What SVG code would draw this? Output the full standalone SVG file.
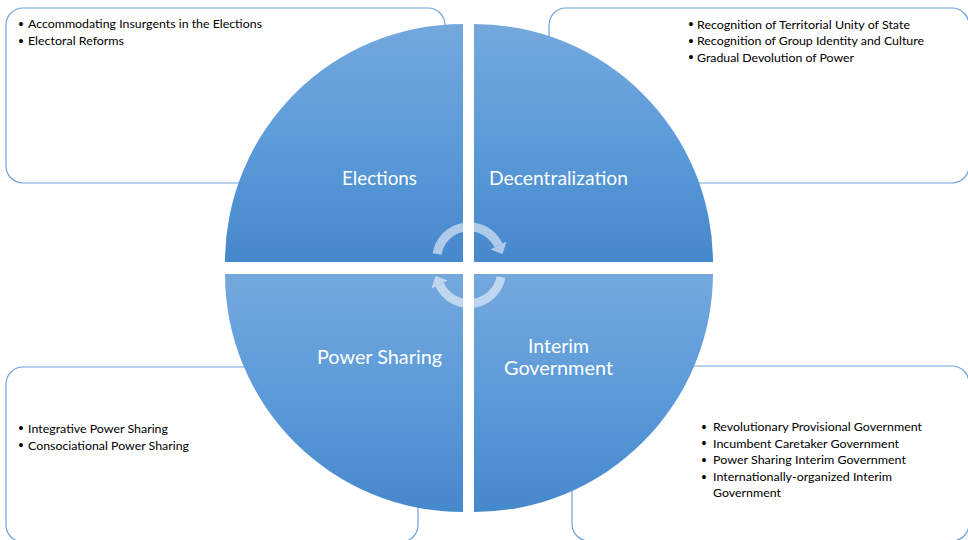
<svg xmlns="http://www.w3.org/2000/svg" width="968" height="540" viewBox="0 0 968 540">
<defs>
<linearGradient id="qg" x1="0" y1="0" x2="0" y2="1">
<stop offset="0" stop-color="#74A8DD"/>
<stop offset="0.5" stop-color="#5B9BD9"/>
<stop offset="1" stop-color="#4688CC"/>
</linearGradient>
<style>
.box{fill:#FFFFFF;stroke:#6FA3DA;stroke-width:1.2}
.q{fill:url(#qg)}
.lbl{font-family:Lato,"Liberation Sans",sans-serif;font-size:20px;fill:#FFFFFF;text-anchor:middle}
.bt{font-family:Lato,"Liberation Sans",sans-serif;font-size:12px;fill:#000000}
.bul{font-family:"Liberation Sans",sans-serif;font-size:14px;fill:#000000;text-anchor:middle}
.arc{fill:none;stroke:#FFFFFF;stroke-width:9}
.head{fill:#FFFFFF}
</style>
</defs>
<rect width="968" height="540" fill="#FFFFFF"/>
<g id="node-elections">
<rect class="box" x="6" y="8" width="439" height="175" rx="17"/>
<text class="bul" x="21" y="28.5">•</text>
<text class="bt" x="28" y="28" textLength="234" lengthAdjust="spacingAndGlyphs">Accommodating Insurgents in the Elections</text>
<text class="bul" x="21" y="45.5">•</text>
<text class="bt" x="28" y="45" textLength="96" lengthAdjust="spacingAndGlyphs">Electoral Reforms</text>
<path class="q" d="M463,262 L225,262 A238,238 0 0 1 463,24 Z"/>
<text class="lbl" x="379.5" y="185" textLength="75" lengthAdjust="spacingAndGlyphs">Elections</text>
</g>
<g id="node-decentralization">
<rect class="box" x="549" y="8" width="420" height="175" rx="17"/>
<text class="bul" x="691" y="29">•</text>
<text class="bt" x="697" y="28.5" textLength="213" lengthAdjust="spacingAndGlyphs">Recognition of Territorial Unity of State</text>
<text class="bul" x="691" y="45.5">•</text>
<text class="bt" x="697" y="45" textLength="227" lengthAdjust="spacingAndGlyphs">Recognition of Group Identity and Culture</text>
<text class="bul" x="691" y="62">•</text>
<text class="bt" x="697" y="61.5" textLength="157" lengthAdjust="spacingAndGlyphs">Gradual Devolution of Power</text>
<path class="q" d="M474,262 L474,24 A239,239 0 0 1 713,262 Z"/>
<text class="lbl" x="558.5" y="185" textLength="139" lengthAdjust="spacingAndGlyphs">Decentralization</text>
</g>
<g id="node-power-sharing">
<rect class="box" x="6" y="367" width="412" height="175" rx="17"/>
<text class="bul" x="21" y="433">•</text>
<text class="bt" x="28" y="432.5" textLength="140" lengthAdjust="spacingAndGlyphs">Integrative Power Sharing</text>
<text class="bul" x="21" y="450">•</text>
<text class="bt" x="28" y="449.5" textLength="161" lengthAdjust="spacingAndGlyphs">Consociational Power Sharing</text>
<path class="q" d="M463,274 L463,512 A238,238 0 0 1 225,274 Z"/>
<text class="lbl" x="379.5" y="364" textLength="125" lengthAdjust="spacingAndGlyphs">Power Sharing</text>
</g>
<g id="node-interim-government">
<rect class="box" x="572" y="366" width="397" height="175" rx="17"/>
<text class="bul" x="704" y="431.5">•</text>
<text class="bt" x="713" y="431" textLength="209" lengthAdjust="spacingAndGlyphs">Revolutionary Provisional Government</text>
<text class="bul" x="704" y="448">•</text>
<text class="bt" x="713" y="447.5" textLength="186" lengthAdjust="spacingAndGlyphs">Incumbent Caretaker Government</text>
<text class="bul" x="704" y="464.5">•</text>
<text class="bt" x="713" y="464" textLength="193" lengthAdjust="spacingAndGlyphs">Power Sharing Interim Government</text>
<text class="bul" x="704" y="481.5">•</text>
<text class="bt" x="713" y="481" textLength="179" lengthAdjust="spacingAndGlyphs">Internationally-organized Interim</text>
<text class="bt" x="713" y="496.5" textLength="68" lengthAdjust="spacingAndGlyphs">Government</text>
<path class="q" d="M474,274 L713,274 A239,239 0 0 1 474,512 Z"/>
<text class="lbl" x="558.5" y="353" textLength="61" lengthAdjust="spacingAndGlyphs">Interim</text>
<text class="lbl" x="558.5" y="375" textLength="109" lengthAdjust="spacingAndGlyphs">Government</text>
</g>
<g id="connectors" opacity="0.55">
<path class="arc" d="M437,254 A32.5,32.5 0 0 1 498.5,245.5"/>
<polygon class="head" points="506.6,241.5 490.4,249.5 502.5,254"/>
<path class="arc" d="M501,277 A32.5,32.5 0 0 1 439.5,284.5"/>
<polygon class="head" points="431.4,288.5 447.6,280.5 435.5,276"/>
</g>
</svg>
